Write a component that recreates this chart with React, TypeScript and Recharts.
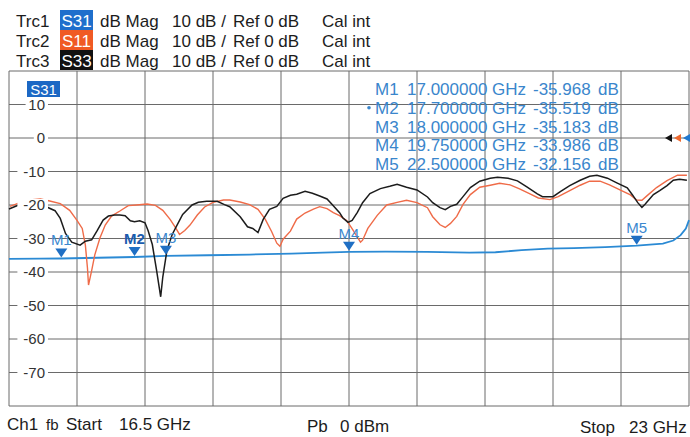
import React from 'react';
import { LineChart, Line, XAxis, YAxis, CartesianGrid, ReferenceDot } from 'recharts';

const FONT = "'Liberation Sans', Arial, Helvetica, sans-serif";

// Axis ticks (16.5 .. 23 GHz, 10 divisions; -80 .. 20 dB, 10 dB/div)
const xTicks = [16.5, 17.15, 17.8, 18.45, 19.1, 19.75, 20.4, 21.05, 21.7, 22.35, 23];
const yTicks = [-80, -70, -60, -50, -40, -30, -20, -10, 0, 10, 20];

// Trace header
const traceNames = ['Trc1', 'Trc2', 'Trc3'];
const traceParams = ['S31', 'S11', 'S33'];
const traceColors = ['#1f6fcc', '#f05a24', '#111111'];

// S33 (black)
const s33Freq = [16.5, 16.61, 16.75, 16.84, 16.94, 16.99, 17.04, 17.1, 17.18, 17.23, 17.29, 17.34, 17.4, 17.45, 17.51, 17.56, 17.61, 17.66, 17.7, 17.75, 17.8, 17.83, 17.87, 17.91, 17.95, 17.97, 18.01, 18.06, 18.11, 18.16, 18.25, 18.31, 18.39, 18.49, 18.56, 18.61, 18.71, 18.78, 18.83, 18.88, 18.93, 18.99, 19.06, 19.12, 19.19, 19.25, 19.33, 19.4, 19.47, 19.54, 19.6, 19.66, 19.69, 19.74, 19.78, 19.83, 19.88, 19.95, 20.05, 20.14, 20.21, 20.3, 20.4, 20.5, 20.55, 20.62, 20.67, 20.72, 20.78, 20.84, 20.91, 21.0, 21.1, 21.17, 21.27, 21.36, 21.45, 21.55, 21.6, 21.7, 21.77, 21.86, 21.96, 22.05, 22.12, 22.22, 22.31, 22.41, 22.46, 22.51, 22.55, 22.58, 22.66, 22.72, 22.79, 22.85, 22.91, 22.98];
const s33Db = [-21.2, -19.8, -19.1, -20.3, -21.7, -24.0, -28.5, -31.1, -32.0, -30.8, -30.4, -27.8, -24.5, -23.3, -23.0, -23.0, -23.2, -24.7, -25.0, -24.7, -25.3, -27.7, -31.8, -39.4, -47.4, -41.5, -33.5, -28.8, -25.8, -22.8, -20.0, -19.2, -18.9, -18.9, -19.9, -20.5, -23.5, -26.5, -27.0, -28.2, -24.3, -21.3, -20.4, -18.0, -17.1, -16.8, -15.9, -16.5, -17.3, -18.2, -20.2, -22.3, -23.8, -25.2, -24.6, -22.2, -19.3, -16.6, -15.1, -14.4, -13.8, -14.7, -15.5, -17.6, -19.3, -20.8, -21.4, -20.4, -19.8, -17.5, -14.8, -12.9, -12.0, -11.7, -12.0, -12.8, -14.6, -16.7, -17.5, -17.5, -16.0, -14.2, -12.6, -11.4, -11.1, -12.0, -13.4, -14.9, -17.0, -19.3, -20.7, -19.8, -16.9, -15.7, -14.2, -12.6, -12.3, -12.6];

// S11 (orange)
const s11Freq = [16.51, 16.61, 16.7, 16.8, 16.89, 16.99, 17.08, 17.15, 17.2, 17.23, 17.25, 17.26, 17.29, 17.32, 17.37, 17.42, 17.48, 17.56, 17.64, 17.72, 17.82, 17.9, 17.97, 18.04, 18.09, 18.13, 18.18, 18.23, 18.3, 18.37, 18.45, 18.55, 18.61, 18.71, 18.8, 18.88, 18.95, 19.01, 19.06, 19.09, 19.12, 19.19, 19.25, 19.33, 19.41, 19.47, 19.54, 19.6, 19.66, 19.73, 19.79, 19.86, 19.88, 19.93, 20.02, 20.11, 20.21, 20.3, 20.4, 20.5, 20.55, 20.62, 20.67, 20.72, 20.78, 20.84, 20.91, 21.0, 21.1, 21.19, 21.29, 21.38, 21.48, 21.56, 21.67, 21.75, 21.86, 21.96, 22.05, 22.15, 22.24, 22.34, 22.44, 22.5, 22.55, 22.6, 22.69, 22.79, 22.89, 22.98];
const s11Db = [-20.4, -19.2, -18.5, -18.2, -18.8, -19.6, -21.6, -24.6, -27.0, -32.0, -38.8, -43.9, -39.6, -34.9, -29.8, -26.0, -23.3, -21.8, -20.2, -20.0, -19.7, -20.1, -21.6, -24.3, -26.7, -28.8, -27.6, -26.0, -23.0, -20.6, -19.2, -18.5, -18.5, -19.1, -19.9, -21.3, -24.3, -27.9, -31.4, -32.3, -30.2, -27.8, -24.2, -22.4, -21.2, -20.5, -21.1, -22.3, -23.2, -24.7, -27.6, -31.1, -30.5, -27.0, -23.1, -20.0, -19.2, -18.6, -19.3, -20.8, -23.5, -25.9, -26.7, -25.5, -23.4, -19.8, -16.9, -14.7, -14.1, -13.5, -14.0, -15.2, -16.7, -17.9, -18.4, -17.5, -15.7, -14.1, -12.9, -12.9, -14.0, -15.5, -17.0, -18.5, -18.6, -17.2, -14.8, -12.7, -11.1, -11.1];

// S31 (blue)
const s31Freq = [16.5, 16.8, 17.0, 17.35, 17.7, 18.0, 18.4, 18.8, 19.2, 19.5, 19.75, 20.1, 20.5, 20.9, 21.15, 21.4, 21.65, 21.9, 22.2, 22.5, 22.75, 22.85, 22.92, 22.97, 23.0];
const s31Db = [-36.1, -36.0, -35.968, -35.75, -35.519, -35.183, -35.0, -34.8, -34.5, -34.2, -33.986, -33.9, -34.0, -34.2, -34.1, -33.5, -33.0, -32.9, -32.6, -32.156, -31.5, -30.6, -29.0, -27.0, -24.5];

// Markers on S31
const markerNames = ['M1', 'M2', 'M3', 'M4', 'M5'];
const markerFreq = [17.0, 17.7, 18.0, 19.75, 22.5];
const markerDb = [-35.968, -35.519, -35.183, -33.986, -32.156];
const activeMarker = 'M2';

// Footer
const footerLeft = ['Ch1', 'fb', 'Start', '16.5 GHz'];
const footerMid = ['Pb', '0 dBm'];
const footerRight = ['Stop', '23 GHz'];

const s33Data = s33Freq.map((f, i) => ({ f, v: s33Db[i] }));
const s11Data = s11Freq.map((f, i) => ({ f, v: s11Db[i] }));
const s31Data = s31Freq.map((f, i) => ({ f, v: s31Db[i] }));

const PLOT_LEFT = 9;

const YTick = (props: any) => {
  const { y, payload } = props;
  const v = payload.value;
  if (v <= -80 || v >= 20) return null;
  const label = String(v);
  const right = PLOT_LEFT + 36;
  const w = label.length * 8.2;
  return (
    <g>
      <rect x={right - w - 3} y={y - 6} width={w + 6} height={12} fill="#ffffff" />
      <text x={right} y={y + 5.3} textAnchor="end" fontSize={15} fill="#333" fontFamily={FONT}>
        {label}
      </text>
    </g>
  );
};

const MarkerShape = (props: any) => {
  const { cx, cy, name } = props;
  if (cx == null || cy == null) return null;
  const active = name === activeMarker;
  return (
    <g>
      <polygon
        points={`${cx - 6},${cy - 10} ${cx + 6},${cy - 10} ${cx},${cy - 1}`}
        fill="#1f6fc4"
      />
      <text
        x={cx}
        y={cy - 13}
        textAnchor="middle"
        fontSize={15}
        fontWeight={active ? 'bold' : 'normal'}
        fill={active ? '#1b5cad' : '#3b88cf'}
        fontFamily={FONT}
      >
        {name}
      </text>
    </g>
  );
};

const RefArrows = (props: any) => {
  const { cx, cy } = props;
  if (cx == null || cy == null) return null;
  const cols = ['#111111', '#f06a30', '#1f78d0'];
  const tips = [-24, -15, -6];
  return (
    <g>
      {tips.map((t, i) => (
        <polygon
          key={i}
          points={`${cx + t},${cy} ${cx + t + 7},${cy - 4} ${cx + t + 7},${cy + 4}`}
          fill={cols[i]}
        />
      ))}
    </g>
  );
};

export default function App() {
  const txt = { fontFamily: FONT, fontSize: 17, fill: '#1c1c1c' } as const;
  const blueTxt = { fontFamily: FONT, fontSize: 17, fill: '#3a86cc' } as const;
  return (
    <div
      style={{
        position: 'fixed',
        left: 0,
        top: 0,
        width: 690,
        height: 437,
        background: '#ffffff',
        overflow: 'hidden',
      }}
    >
      <LineChart width={690} height={437} margin={{ top: 71, right: 1, bottom: 31, left: 0 }}>
        <CartesianGrid stroke="#6a6a6a" strokeWidth={1} />
        <XAxis dataKey="f" type="number" domain={[16.5, 23]} ticks={xTicks} hide allowDuplicatedCategory={false} />
        <YAxis
          type="number"
          domain={[-80, 20]}
          ticks={yTicks}
          width={PLOT_LEFT}
          axisLine={false}
          tickLine={false}
          tickSize={0}
          tickMargin={0}
          tick={<YTick />}
          interval={0}
        />
        <Line data={s31Data} dataKey="v" type="linear" stroke="#2b8ad4" strokeWidth={1.8} dot={false} isAnimationActive={false} />
        <Line data={s11Data} dataKey="v" type="linear" stroke="#ef6b48" strokeWidth={1.4} dot={false} isAnimationActive={false} />
        <Line data={s33Data} dataKey="v" type="linear" stroke="#1c1c1c" strokeWidth={1.5} dot={false} isAnimationActive={false} />
        {markerNames.map((m, i) => (
          <ReferenceDot
            key={m}
            x={markerFreq[i]}
            y={markerDb[i]}
            r={0}
            shape={(p: any) => <MarkerShape {...p} name={m} />}
          />
        ))}
        <ReferenceDot x={23} y={0} r={0} shape={(p: any) => <RefArrows {...p} />} />
      </LineChart>

      <svg width={690} height={437} style={{ position: 'absolute', left: 0, top: 0, pointerEvents: 'none' }}>
        {traceNames.map((t, i) => {
          const base = 27 + 20 * i;
          const top = 10 + 20 * i;
          return (
            <g key={t}>
              <text x={16} y={base} {...txt}>{t}</text>
              <rect x={60} y={top} width={33} height={20} fill={traceColors[i]} />
              <text x={76.5} y={base} {...txt} fill="#ffffff" textAnchor="middle">{traceParams[i]}</text>
              <text x={100} y={base} {...txt}>dB Mag</text>
              <text x={172} y={base} {...txt}>10 dB /</text>
              <text x={233} y={base} {...txt}>Ref 0 dB</text>
              <text x={322} y={base} {...txt}>Cal int</text>
            </g>
          );
        })}

        <rect x={27} y={81} width={33} height={16} fill="#1c68c4" />
        <text x={43.5} y={94.5} fontFamily={FONT} fontSize={15} fill="#ffffff" textAnchor="middle">{traceParams[0]}</text>

        {markerNames.map((m, i) => {
          const base = 95 + 18.8 * i;
          return (
            <g key={m}>
              {m === activeMarker && <circle cx={369} cy={base - 6} r={1.8} fill="#3a86cc" />}
              <text x={375} y={base} {...blueTxt}>{m}</text>
              <text x={407} y={base} {...blueTxt}>{markerFreq[i].toFixed(6)}</text>
              <text x={492} y={base} {...blueTxt}>GHz</text>
              <text x={533} y={base} {...blueTxt}>{markerDb[i].toFixed(3)}</text>
              <text x={598} y={base} {...blueTxt}>dB</text>
            </g>
          );
        })}

        <text x={7} y={430} {...txt}>{footerLeft[0]}</text>
        <text x={46} y={430} {...txt} fontSize={15}>{footerLeft[1]}</text>
        <text x={66} y={430} {...txt}>{footerLeft[2]}</text>
        <text x={119} y={430} {...txt}>{footerLeft[3]}</text>
        <text x={307} y={432} {...txt}>{footerMid[0]}</text>
        <text x={340} y={432} {...txt}>{footerMid[1]}</text>
        <text x={580} y={433} {...txt}>{footerRight[0]}</text>
        <text x={629} y={433} {...txt}>{footerRight[1]}</text>
      </svg>
    </div>
  );
}
